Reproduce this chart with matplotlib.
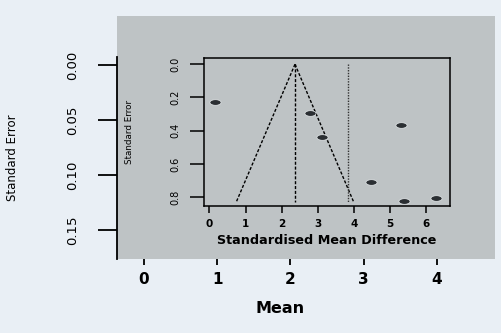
import numpy as np
import matplotlib
matplotlib.use("Agg")
import matplotlib.pyplot as plt

# outer plot (empty funnel axes)
outer_xticks = [0, 1, 2, 3, 4]
outer_yticks = [0.00, 0.05, 0.10, 0.15]

# inner funnel plot
smd = [0.15, 2.78, 3.12, 5.30, 4.47, 5.39, 6.27]
se = [0.23, 0.295, 0.44, 0.367, 0.71, 0.824, 0.806]
pooled = 2.37
other_est = 3.84
se_max = 0.83
inner_xticks = [0, 1, 2, 3, 4, 5, 6]
inner_yticks = [0.0, 0.2, 0.4, 0.6, 0.8]

bg = "#e9eff5"
panel = "#bec3c5"

fig = plt.figure(figsize=(5.01, 3.33), dpi=100)
fig.patch.set_facecolor(bg)

# outer axes
ax = fig.add_axes([0.2335, 0.2222, 0.7545, 0.730])
ax.set_facecolor(panel)
ax.set_xlim(-0.369, 4.795)
ax.set_ylim(0.1764, -0.0445)
for s in ["top", "right", "bottom"]:
    ax.spines[s].set_visible(False)
ax.spines["left"].set_bounds(-0.0073, 0.1764)
ax.spines["left"].set_linewidth(1.3)
ax.set_xticks(outer_xticks)
ax.set_xticklabels([str(v) for v in outer_xticks], fontsize=11, fontweight="bold")
ax.set_yticks(outer_yticks)
ax.set_yticklabels(["%.2f" % v for v in outer_yticks], fontsize=9.5, rotation=90, va="center")
ax.tick_params(axis="x", length=4, width=1.3, pad=5)
ax.tick_params(axis="y", length=14, width=1.3, pad=13)
ax.set_xlabel("Mean", fontsize=11.5, fontweight="bold")
ax.xaxis.set_label_coords((280 - 117) / 378, -0.172)
ax.set_ylabel("Standard Error", fontsize=8.5)
ax.yaxis.set_label_coords((19 - 117) / 378, (259 - 158) / 243)

# inner axes
ia = fig.add_axes([0.407, 0.381, 0.491, 0.444])
ia.set_facecolor(panel)
ia.set_xlim(-0.152, 6.66)
ia.set_ylim(0.854, -0.036)
for s in ia.spines.values():
    s.set_linewidth(1.1)

se_line = np.array([0, se_max])
ia.plot(pooled - 1.96 * se_line, se_line, color="black", ls=(0, (2.2, 1.3)), lw=1.0)
ia.plot(pooled + 1.96 * se_line, se_line, color="black", ls=(0, (2.2, 1.3)), lw=1.0)
ia.plot([pooled, pooled], se_line, color="black", ls=(0, (2.2, 1.3)), lw=1.0)
ia.plot([other_est, other_est], se_line, color="#333333", ls=(0, (1, 1)), lw=1.0)

t = np.linspace(0, 2 * np.pi, 40)
ell = list(zip(np.cos(t), 0.5 * np.sin(t)))
ia.scatter(smd, se, marker=ell, s=65, color="#2b2f33", edgecolors="#e6eaec",
           linewidths=0.5, zorder=3)

ia.set_xticks(inner_xticks)
ia.set_xticklabels([str(v) for v in inner_xticks], fontsize=7.5, fontweight="bold")
ia.set_yticks(inner_yticks)
ia.set_yticklabels(["%.1f" % v for v in inner_yticks], fontsize=7, rotation=90, va="center")
ia.tick_params(axis="x", length=5, width=1.1, pad=4)
ia.tick_params(axis="y", length=10, width=1.1, pad=7)
ia.set_xlabel("Standardised Mean Difference", fontsize=9.2, fontweight="bold", labelpad=4)
ia.set_ylabel("Standard Error", fontsize=6.3)
ia.yaxis.set_label_coords((134 - 204) / 246, 0.5)

fig.savefig("out.png", dpi=100, facecolor=bg)
